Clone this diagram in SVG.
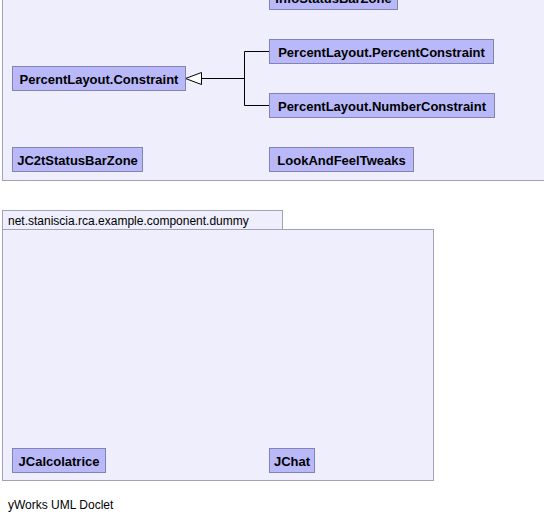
<svg xmlns="http://www.w3.org/2000/svg" width="544" height="519" viewBox="0 0 544 519">
<style>
.pkg{fill:#eeeefc;stroke:#a3a3b8;stroke-width:1}
.node rect{fill:#b9b9f9;stroke:#8282b4;stroke-width:1}
.node text{font-family:"Liberation Sans",Arial,sans-serif;font-size:13px;font-weight:bold;fill:#000;text-anchor:middle}
.pkgname{font-family:"Liberation Sans",Arial,sans-serif;font-size:12px;fill:#000}
.edge{fill:none;stroke:#000;stroke-width:1}
</style>
<rect width="544" height="519" fill="#fff"/>
<g id="pkg-top">
<rect class="pkg" x="2.5" y="-100" width="600" height="280.5"/>
</g>
<g id="pkg-dummy">
<rect class="pkg" x="2.5" y="210.5" width="280" height="19"/>
<rect class="pkg" x="2.5" y="229.5" width="431" height="251"/>
<text class="pkgname" x="8" y="224.5">net.staniscia.rca.example.component.dummy</text>
</g>
<g id="connectors">
<polyline class="edge" points="269.5,51.5 244.5,51.5 244.5,105.5 269.5,105.5"/>
<line class="edge" x1="201.5" y1="78.5" x2="244.5" y2="78.5"/>
<polygon points="185.5,78.5 201.5,72.5 201.5,84.5" fill="#fff" stroke="#000" stroke-width="1"/>
</g>
<g id="InfoStatusBarZone" class="node"><rect x="269.5" y="-14.5" width="128" height="24"/><text x="333.5" y="2.5">InfoStatusBarZone</text></g>
<g id="PercentLayout.Constraint" class="node"><rect x="12.5" y="66.5" width="173" height="24"/><text x="99" y="83.5">PercentLayout.Constraint</text></g>
<g id="PercentLayout.PercentConstraint" class="node"><rect x="269.5" y="39.5" width="224" height="24"/><text x="381.5" y="56.5">PercentLayout.PercentConstraint</text></g>
<g id="PercentLayout.NumberConstraint" class="node"><rect x="269.5" y="93.5" width="225" height="24"/><text x="382" y="110.5">PercentLayout.NumberConstraint</text></g>
<g id="JC2tStatusBarZone" class="node"><rect x="12.5" y="147.5" width="130" height="24"/><text x="77.5" y="164.5">JC2tStatusBarZone</text></g>
<g id="LookAndFeelTweaks" class="node"><rect x="269.5" y="147.5" width="144" height="24"/><text x="341.5" y="164.5">LookAndFeelTweaks</text></g>
<g id="JCalcolatrice" class="node"><rect x="12.5" y="448.5" width="93" height="24"/><text x="59" y="465.5">JCalcolatrice</text></g>
<g id="JChat" class="node"><rect x="269.5" y="448.5" width="45" height="24"/><text x="292" y="465.5">JChat</text></g>
<text class="pkgname" x="8" y="508.5">yWorks UML Doclet</text>
</svg>
